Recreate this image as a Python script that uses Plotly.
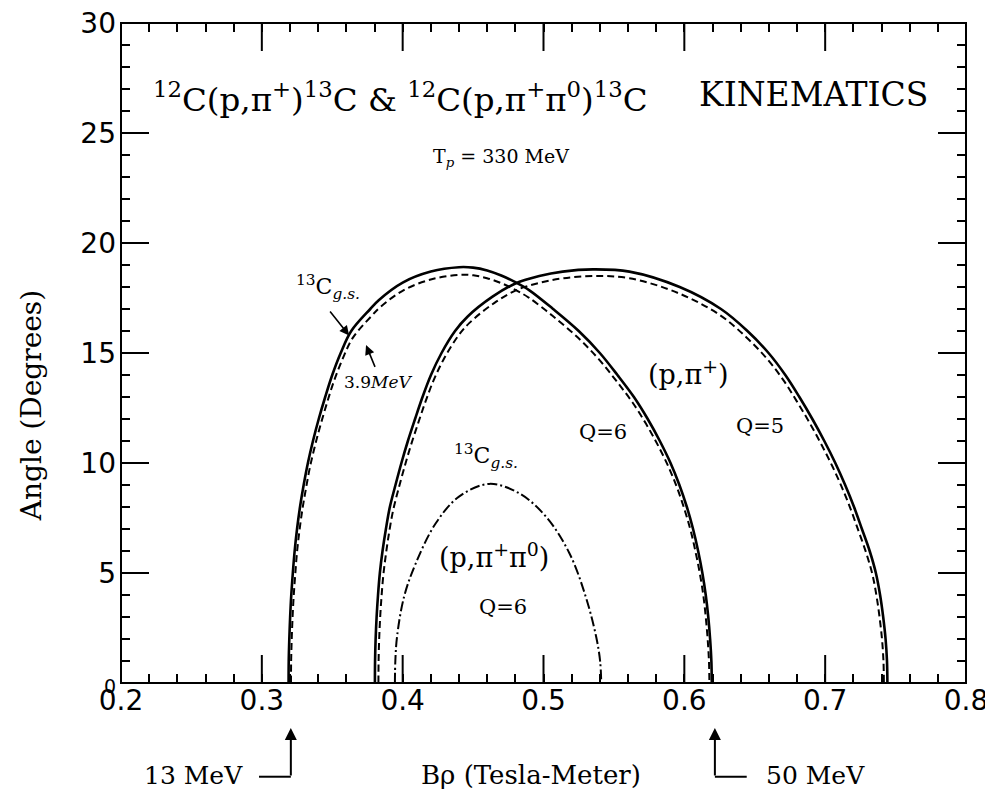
import plotly.graph_objects as go

# Q=6 (p,pi+) 13C g.s. (solid)
bp_q6_gs = [0.3190, 0.3191, 0.3195, 0.3201, 0.3209, 0.3220, 0.3233, 0.3250, 0.3271, 0.3297,
            0.3327, 0.3363, 0.3404, 0.3450, 0.3500, 0.3560, 0.3635, 0.3770, 0.3830, 0.4000,
            0.4200, 0.4400, 0.4500, 0.4600, 0.4700, 0.4800, 0.4900, 0.5068, 0.5250, 0.5400,
            0.5525, 0.5642, 0.5740, 0.5826, 0.5902, 0.5965, 0.6018, 0.6062, 0.6098, 0.6128,
            0.6152, 0.6170, 0.6183, 0.6192, 0.6195]
ang_q6_gs = [0, 1, 2, 3, 4, 5, 6, 7, 8, 9,
             10, 11, 12, 13, 14, 15, 16, 17, 17.4, 18.2,
             18.7, 18.9, 18.88, 18.75, 18.52, 18.22, 17.85, 17.0, 16.0, 15.0,
             14.0, 13.0, 12.0, 11.0, 10.0, 9.0, 8.0, 7.0, 6.0, 5.0,
             4.0, 3.0, 2.0, 1.0, 0.0]
# Q=6 (p,pi+) 13C 3.9 MeV (dashed)
bp_q6_39 = [0.3207, 0.3208, 0.3212, 0.3218, 0.3226, 0.3237, 0.3249, 0.3266, 0.3287, 0.3313,
            0.3342, 0.3378, 0.3419, 0.3464, 0.3513, 0.3573, 0.3647, 0.3780, 0.3840, 0.4008,
            0.4206, 0.4403, 0.4502, 0.4599, 0.4698, 0.4797, 0.4895, 0.5064, 0.5244, 0.5392,
            0.5516, 0.5631, 0.5728, 0.5813, 0.5888, 0.5951, 0.6003, 0.6047, 0.6082, 0.6112,
            0.6136, 0.6153, 0.6166, 0.6175, 0.6178]
ang_q6_39 = [0, 0.98, 1.96, 2.94, 3.93, 4.91, 5.89, 6.87, 7.85, 8.83,
             9.82, 10.8, 11.78, 12.76, 13.74, 14.72, 15.7, 16.69, 17.08, 17.86,
             18.35, 18.55, 18.53, 18.4, 18.18, 17.88, 17.52, 16.69, 15.7, 14.72,
             13.74, 12.76, 11.78, 10.8, 9.82, 8.83, 7.85, 6.87, 5.89, 4.91,
             3.93, 2.94, 1.96, 0.98, 0]
# Q=5 (p,pi+) 13C g.s. (solid)
bp_q5_gs = [0.3803, 0.3804, 0.3808, 0.3815, 0.3825, 0.3838, 0.3857, 0.3881, 0.3909, 0.3949,
            0.3991, 0.4037, 0.4088, 0.4141, 0.4201, 0.4276, 0.4372, 0.4460, 0.4638, 0.4804,
            0.4970, 0.5136, 0.5350, 0.5610, 0.5967, 0.6260, 0.6448, 0.6598, 0.6717, 0.6817,
            0.6909, 0.6994, 0.7072, 0.7142, 0.7205, 0.7261, 0.7316, 0.7360, 0.7390, 0.7412,
            0.7429, 0.7439, 0.7442]
ang_q5_gs = [0, 1, 2, 3, 4, 5, 6, 7, 8, 9,
             10, 11, 12, 13, 14, 15, 16, 16.65, 17.56, 18.17,
             18.5, 18.7, 18.8, 18.7, 18.0, 17.0, 16.0, 15.0, 14.0, 13.0,
             12.0, 11.0, 10.0, 9.0, 8.0, 7.0, 6.0, 5.0, 4.0, 3.0,
             2.0, 1.0, 0.0]
# Q=5 (p,pi+) 13C 3.9 MeV (dashed)
bp_q5_39 = [0.3828, 0.3829, 0.3833, 0.3840, 0.3850, 0.3863, 0.3882, 0.3905, 0.3933, 0.3972,
            0.4014, 0.4059, 0.4110, 0.4162, 0.4221, 0.4295, 0.4390, 0.4476, 0.4652, 0.4815,
            0.4979, 0.5142, 0.5354, 0.5610, 0.5962, 0.6251, 0.6436, 0.6584, 0.6702, 0.6800,
            0.6891, 0.6975, 0.7052, 0.7121, 0.7183, 0.7238, 0.7292, 0.7336, 0.7365, 0.7387,
            0.7404, 0.7414, 0.7417]
ang_q5_39 = [0, 0.98, 1.97, 2.95, 3.94, 4.92, 5.9, 6.89, 7.87, 8.86,
             9.84, 10.82, 11.81, 12.79, 13.78, 14.76, 15.74, 16.38, 17.28, 17.88,
             18.2, 18.4, 18.5, 18.4, 17.71, 16.73, 15.74, 14.76, 13.78, 12.79,
             11.81, 10.82, 9.84, 8.86, 7.87, 6.89, 5.9, 4.92, 3.94, 2.95,
             1.97, 0.98, 0]
# Q=6 (p,pi+pi0) 13C g.s. (dash-dot)
bp_pipi = [0.3945, 0.3948, 0.3960, 0.4010, 0.4093, 0.4235, 0.4400, 0.4614, 0.4828, 0.5018,
           0.5184, 0.5300, 0.5374, 0.5402, 0.5410]
ang_pipi = [0.0, 1.0, 2.1, 3.92, 5.44, 7.26, 8.47, 9.05, 8.62, 7.56,
            5.9, 3.92, 2.1, 1.0, 0.0]

x_ticks = [0.2, 0.3, 0.4, 0.5, 0.6, 0.7, 0.8]
y_ticks = [0, 5, 10, 15, 20, 25, 30]
x_range = [0.2, 0.8]
y_range = [0, 30]

SERIF = "DejaVu Serif, Liberation Serif, serif"
PLOT_W, PLOT_H = 845, 660
MAJOR_LEN = 28

fig = go.Figure()
curves = [
    (bp_q6_gs, ang_q6_gs, "solid", 2.6),
    (bp_q6_39, ang_q6_39, "7px,4px", 2),
    (bp_q5_gs, ang_q5_gs, "solid", 2.6),
    (bp_q5_39, ang_q5_39, "7px,4px", 2),
    (bp_pipi, ang_pipi, "10px,3px,2px,3px", 2),
]
for xs, ys, dash, w in curves:
    fig.add_trace(go.Scatter(x=xs, y=ys, mode="lines",
                             line=dict(color="black", width=w, dash=dash, shape="spline", smoothing=1.0),
                             showlegend=False, hoverinfo="skip"))

# long major tick marks on all four sides, placed at the tick values
dx = MAJOR_LEN / PLOT_W * (x_range[1] - x_range[0])
dy = MAJOR_LEN / PLOT_H * (y_range[1] - y_range[0])
tx, ty = [], []
for v in x_ticks[1:-1]:
    tx += [v, v, None, v, v, None]
    ty += [y_range[0], y_range[0] + dy, None, y_range[1] - dy, y_range[1], None]
for v in y_ticks[1:-1]:
    tx += [x_range[0], x_range[0] + dx, None, x_range[1] - dx, x_range[1], None]
    ty += [v, v, None, v, v, None]
fig.add_trace(go.Scatter(x=tx, y=ty, mode="lines", line=dict(color="black", width=2),
                         showlegend=False, hoverinfo="skip", connectgaps=False))

for k in ["2", "3"]:
    fig.add_trace(go.Scatter(x=[None], y=[None], xaxis="x" + k, yaxis="y" + k,
                             showlegend=False, hoverinfo="skip"))

base = dict(showgrid=False, zeroline=False, showline=False,
            ticks="inside", tickwidth=2, tickcolor="black", automargin=False, fixedrange=True)
base_nt = {k: v for k, v in base.items() if k != "ticks"}

x_text = [f"{v:.1f}" for v in x_ticks]
y_text = ["<span style='font-size:19px'>0</span>"] + [str(v) for v in y_ticks[1:]]

layout_axes = dict(
    xaxis=dict(range=x_range, tickvals=x_ticks, ticktext=x_text, ticks="", ticklabeloverflow="allow",
               minor=dict(dtick=0.02, tick0=0.2, ticklen=9, tickwidth=2, tickcolor="black", ticks="inside"),
               tickfont=dict(family="DejaVu Sans", size=28, color="black"), ticklabelstandoff=-2, **base_nt),
    yaxis=dict(range=y_range, tickvals=y_ticks, ticktext=y_text, ticks="", ticklabeloverflow="allow",
               minor=dict(dtick=1, tick0=0, ticklen=9, tickwidth=2, tickcolor="black", ticks="inside"),
               tickfont=dict(family="DejaVu Sans", size=28, color="black"), ticklabelstandoff=4, **base_nt),
    xaxis2=dict(range=x_range, dtick=0.02, tick0=0.2, ticklen=9, overlaying="x", anchor="y", side="top",
                showticklabels=False, **base),
    yaxis2=dict(range=y_range, dtick=1, tick0=0, ticklen=9, overlaying="y", anchor="x", side="right",
                showticklabels=False, **base),
    xaxis3=dict(range=x_range, dtick=0.02, tick0=0.2, ticklen=9, overlaying="x", anchor="y", side="bottom",
                showticklabels=False, **base),
    yaxis3=dict(range=y_range, dtick=1, tick0=0, ticklen=9, overlaying="y", anchor="x", side="left",
                showticklabels=False, **base),
)

ann = []
def txt(x, y, s, size, xanchor="center", yanchor="middle", xref="x", yref="y", angle=0):
    ann.append(dict(x=x, y=y, xref=xref, yref=yref, text=s, showarrow=False, xanchor=xanchor,
                    yanchor=yanchor, textangle=angle,
                    font=dict(family=SERIF, size=size, color="black")))

def px2x(p):
    return 0.2 + (p - 121) / 1410.0

txt(px2x(151), 26.6,
    "<sup>12</sup>C(p,π<sup>+</sup>)<sup>13</sup>C &amp; <sup>12</sup>C(p,π<sup>+</sup>π<sup>0</sup>)<sup>13</sup>C",
    32.5, xanchor="left")
txt(px2x(931), 26.77, "KINEMATICS", 33, xanchor="right")
txt(0.470, 23.9, "T<sub><i>p</i></sub> = 330 MeV", 19)
txt(0.347, 18.0, "<sup>13</sup>C<sub><i>g.s.</i></sub>", 22)
txt(0.3825, 13.7, "3.9<i>MeV</i>", 17)
txt(0.5426, 11.4, "Q=6", 21)
txt(0.459, 10.3, "<sup>13</sup>C<sub><i>g.s.</i></sub>", 22)
txt(0.465, 5.8, "(p,π<sup>+</sup>π<sup>0</sup>)", 27)
txt(0.471, 3.45, "Q=6", 21)
txt(0.603, 14.1, "(p,π<sup>+</sup>)", 27)
txt(0.6537, 11.7, "Q=5", 21)
txt(px2x(531), -0.165, "Bρ (Tesla-Meter)", 26, yanchor="bottom", yref="paper")
txt(px2x(194), -0.165, "13 MeV", 25, yanchor="bottom", yref="paper")
txt(px2x(816), -0.165, "50 MeV", 25, yanchor="bottom", yref="paper")
txt(-0.106, 12.6, "Angle (Degrees)", 28, xref="paper", angle=-90)

arrows = [
    (0.362, 15.8, 0.3476, 16.95),
    (0.374, 15.36, 0.3808, 14.3),
]
for hx, hy, ax_, ay_ in arrows:
    ann.append(dict(x=hx, y=hy, ax=ax_, ay=ay_, xref="x", yref="y", axref="x", ayref="y", text="",
                    showarrow=True, arrowhead=2, arrowsize=1.2, arrowwidth=1.6, arrowcolor="black"))

for xv in [0.3206, 0.6217]:
    ann.append(dict(x=xv, y=-0.068, xref="x", yref="paper", ax=0, ay=49, text="",
                    showarrow=True, arrowhead=2, arrowsize=1.2, arrowwidth=2, arrowcolor="black"))

shapes = [
    dict(type="rect", xref="paper", yref="paper", x0=0, x1=1, y0=0, y1=1,
         line=dict(color="black", width=2), layer="above"),
    dict(type="line", xref="x", yref="paper", x0=0.2980, x1=0.3206, y0=-0.142, y1=-0.142,
         line=dict(color="black", width=2)),
    dict(type="line", xref="x", yref="paper", x0=0.6217, x1=0.6443, y0=-0.142, y1=-0.142,
         line=dict(color="black", width=2)),
]

fig.update_layout(width=993, height=790, margin=dict(l=113, r=35, t=15, b=115),
                  plot_bgcolor="white", paper_bgcolor="white",
                  annotations=ann, shapes=shapes, **layout_axes)

fig.write_html("out.html")
